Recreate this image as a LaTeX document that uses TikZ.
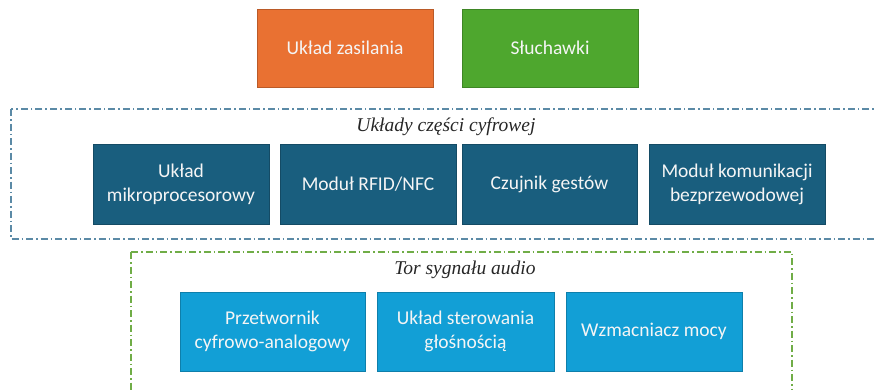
\documentclass[tikz,border=0pt]{standalone}
\usepackage{fontspec}
\setmainfont{Carlito}
\newfontfamily\labfont{Liberation Serif}
\definecolor{orangebox}{HTML}{E97132}
\definecolor{greenbox}{HTML}{4EA72E}
\definecolor{darkbox}{HTML}{195E7E}
\definecolor{lightbox}{HTML}{129FD6}
\definecolor{frameblue}{HTML}{5B8AA6}
\definecolor{framegreen}{HTML}{70AD47}
\begin{document}
\begin{tikzpicture}[x=1pt,y=-1pt,
  blk/.style={draw=#1!80!black, line width=0.5pt, fill=#1, text=white!92!gray, align=center,
    font=\fontsize{19.5}{24}\selectfont, inner sep=0pt},
  grp/.style={line width=1.1pt, draw=#1, dash pattern=on 7pt off 3pt on 1.5pt off 3pt},
  lab/.style={font=\labfont\itshape\fontsize{19.5}{22}\selectfont, text=black!85}]
\useasboundingbox (0,0) rectangle (875,389);
% frames
\draw[grp=frameblue] (11,109) rectangle (890,239);
\draw[grp=framegreen] (131,252) -- (792,252) -- (792,400);
\draw[grp=framegreen] (131,252) -- (131,400);
\node[lab] (labA) at (446,127) {Układy części cyfrowej};
\node[lab] (labB) at (465,270) {Tor sygnału audio};
% top boxes
\node[blk=orangebox, minimum width=176pt, minimum height=78pt] (zas) at (345,48) {Układ zasilania};
\node[blk=greenbox, minimum width=176pt, minimum height=78pt] (sl) at (550,48) {Słuchawki};
% digital
\node[blk=darkbox, minimum width=176pt, minimum height=80pt] (mp) at (181,184) {Układ\\mikroprocesorowy};
\node[blk=darkbox, minimum width=176pt, minimum height=80pt] (rfid) at (368,184) {Moduł RFID/NFC};
\node[blk=darkbox, minimum width=175pt, minimum height=80pt] (cz) at (549.5,184) {Czujnik gestów};
\node[blk=darkbox, minimum width=176pt, minimum height=80pt] (kom) at (737,184) {Moduł komunikacji\\bezprzewodowej};
% audio
\node[blk=lightbox, minimum width=185pt, minimum height=79pt] (dac) at (272.5,331.5) {Przetwornik\\cyfrowo-analogowy};
\node[blk=lightbox, minimum width=177pt, minimum height=79pt] (vol) at (465.5,331.5) {Układ sterowania\\głośnością};
\node[blk=lightbox, minimum width=176pt, minimum height=79pt] (amp) at (654,331.5) {Wzmacniacz mocy};
\end{tikzpicture}
\end{document}
